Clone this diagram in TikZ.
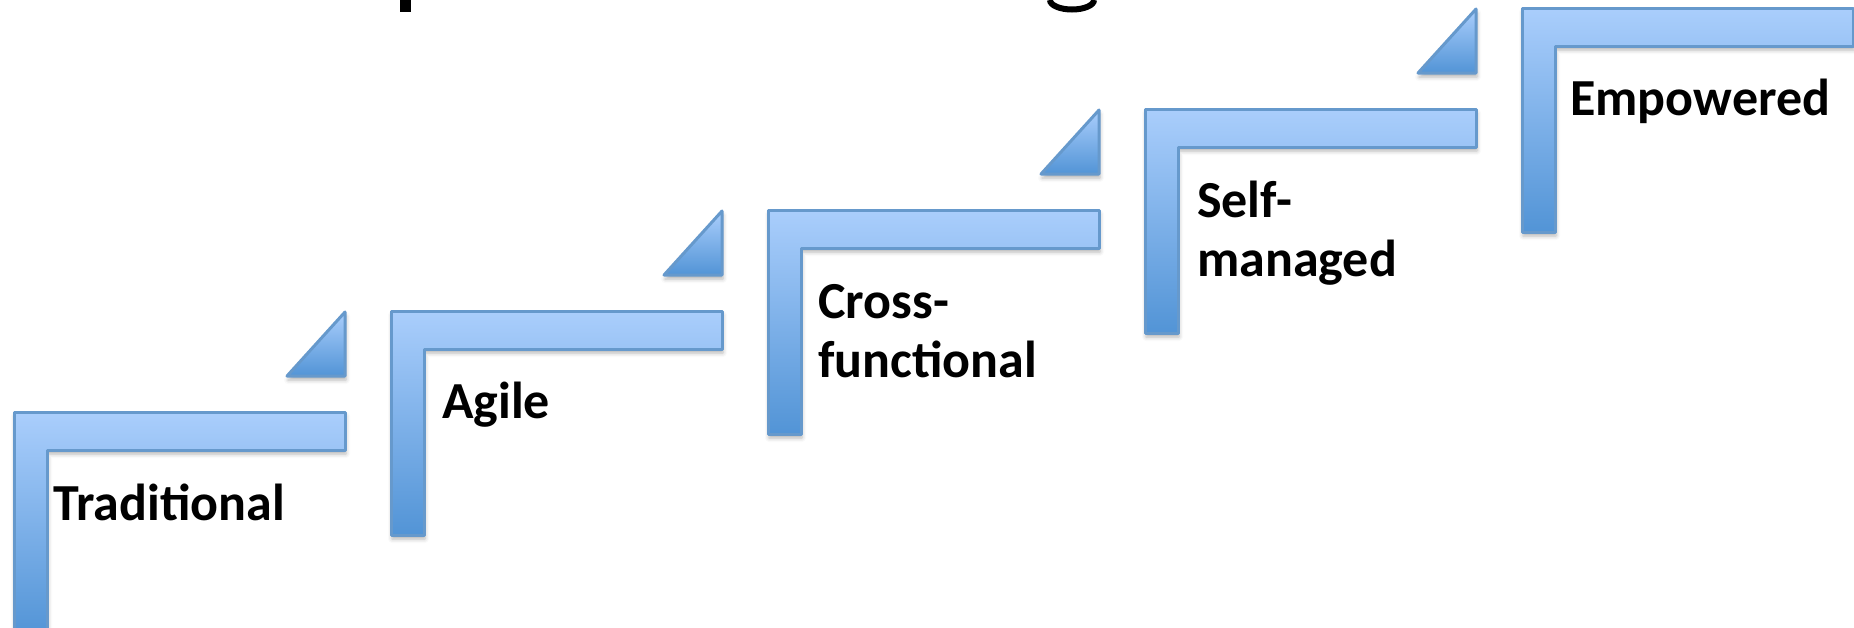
\documentclass[tikz,border=0pt]{standalone}
\usepackage{fontspec}
\setmainfont{Carlito}
\usetikzlibrary{shadows.blur}
\definecolor{stepline}{HTML}{6699CC}
\definecolor{steptop}{HTML}{AACEFC}
\definecolor{stepbot}{HTML}{5294D6}
\begin{document}
\begin{tikzpicture}[x=1pt,y=1pt,
  stepshape/.style={draw=stepline, line width=3pt, line join=round,
    top color=steptop, bottom color=stepbot,
    blur shadow={shadow xshift=1pt, shadow yshift=-4pt, shadow blur radius=4pt, shadow opacity=30}},
  steplabel/.style={anchor=base west, inner sep=0pt, align=left,
    font=\bfseries\fontsize{52}{59}\selectfont}]
\useasboundingbox (0,0) rectangle (1854,-627);
\clip (0,0) rectangle (1854,-627);
% lower edge of the heading, cut by the top border
\fill (400,0) rectangle (411,-12);
\draw[line width=6pt] (1050,0) arc[start angle=180, end angle=360, x radius=22, y radius=9.5];
% the five L-shaped steps
\foreach \L/\T in {14/412, 391/311, 768/210, 1145/109, 1522/8} {
  \path[stepshape] (\L,-\T) -- ++(331,0) -- ++(0,-38) -- ++(-298,0)
    -- ++(0,-186) -- ++(-33,0) -- cycle;
}
% the small wedges leading up to the next step
\foreach \L/\T in {14/412, 391/311, 768/210, 1145/109} {
  \path[stepshape] (\L+331,-\T+100) -- (\L+331,-\T+36) -- (\L+273,-\T+36) -- cycle;
}
% step labels (two-line labels are anchored on their last line)
\node[steplabel] (trad)  at (53,-520)   {Traditional};
\node[steplabel] (agile) at (442,-418)  {Agile};
\node[steplabel] (cross) at (818,-377)  {Cross-\\functional};
\node[steplabel] (self)  at (1197,-276) {Self-\\managed};
\node[steplabel] (emp)   at (1570,-115) {Empowered};
\end{tikzpicture}
\end{document}
